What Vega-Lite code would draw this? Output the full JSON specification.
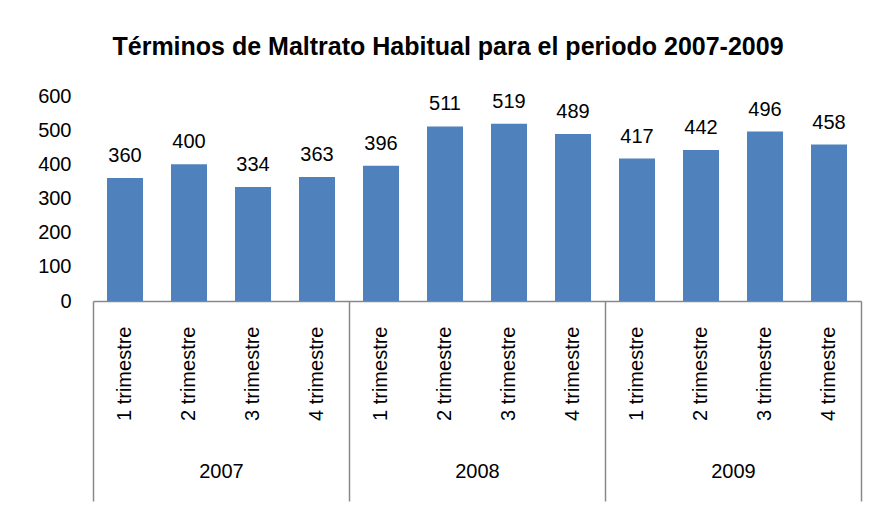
{
  "$schema": "https://vega.github.io/schema/vega-lite/v6.json",
  "autosize": "none",
  "width": 768,
  "height": 205,
  "padding": {"left": 93, "top": 96, "right": 11, "bottom": 208},
  "background": "white",
  "title": {
    "text": "Términos de Maltrato Habitual  para el periodo 2007-2009",
    "font": "Liberation Sans",
    "fontSize": 25,
    "fontWeight": "bold",
    "color": "black",
    "anchor": "middle",
    "offset": 26,
    "dx": -29
  },
  "config": {
    "view": {"stroke": null},
    "axis": {"labelFont": "Liberation Sans", "labelFontSize": 20, "labelColor": "black", "grid": false, "title": null, "labelOverlap": false}
  },
  "data": {
    "values": [
      {"year": "2007", "cat": "2007-1", "value": 360},
      {"year": "2007", "cat": "2007-2", "value": 400},
      {"year": "2007", "cat": "2007-3", "value": 334},
      {"year": "2007", "cat": "2007-4", "value": 363},
      {"year": "2008", "cat": "2008-1", "value": 396},
      {"year": "2008", "cat": "2008-2", "value": 511},
      {"year": "2008", "cat": "2008-3", "value": 519},
      {"year": "2008", "cat": "2008-4", "value": 489},
      {"year": "2009", "cat": "2009-1", "value": 417},
      {"year": "2009", "cat": "2009-2", "value": 442},
      {"year": "2009", "cat": "2009-3", "value": 496},
      {"year": "2009", "cat": "2009-4", "value": 458}
    ]
  },
  "encoding": {
    "y": {
      "field": "value", "type": "quantitative",
      "scale": {"domain": [0, 600], "nice": false},
      "axis": {"values": [0, 100, 200, 300, 400, 500, 600], "tickCount": 7, "ticks": false, "domain": false, "labelPadding": 22, "labelOverlap": false}
    }
  },
  "layer": [
    {
      "encoding": {
        "x": {
          "field": "cat", "type": "nominal", "sort": null,
          "scale": {"paddingInner": 0, "paddingOuter": 0},
          "axis": {
            "orient": "bottom",
            "labelExpr": "split(datum.value, '-')[1] + ' trimestre'",
            "labelAngle": -90,
            "labelPadding": 25,
            "ticks": false,
            "domain": true,
            "domainColor": "#888888",
            "domainWidth": 1.5
          }
        }
      },
      "layer": [
        {"mark": {"type": "bar", "color": "#4F81BD", "width": 36}},
        {
          "mark": {"type": "text", "font": "Liberation Sans", "fontSize": 20, "color": "black", "baseline": "alphabetic", "dy": -16},
          "encoding": {"text": {"field": "value", "type": "quantitative"}}
        }
      ]
    },
    {
      "mark": {"type": "point", "opacity": 0},
      "encoding": {
        "x": {
          "field": "year", "type": "nominal",
          "scale": {"type": "band", "paddingInner": 0, "paddingOuter": 0},
          "axis": {
            "orient": "bottom",
            "domain": false,
            "ticks": true,
            "tickBand": "extent",
            "tickSize": 200,
            "tickColor": "#888888",
            "tickWidth": 1.5,
            "labelPadding": -40,
            "labelAngle": 0
          }
        }
      }
    }
  ],
  "resolve": {"scale": {"x": "independent"}, "axis": {"x": "independent"}}
}
